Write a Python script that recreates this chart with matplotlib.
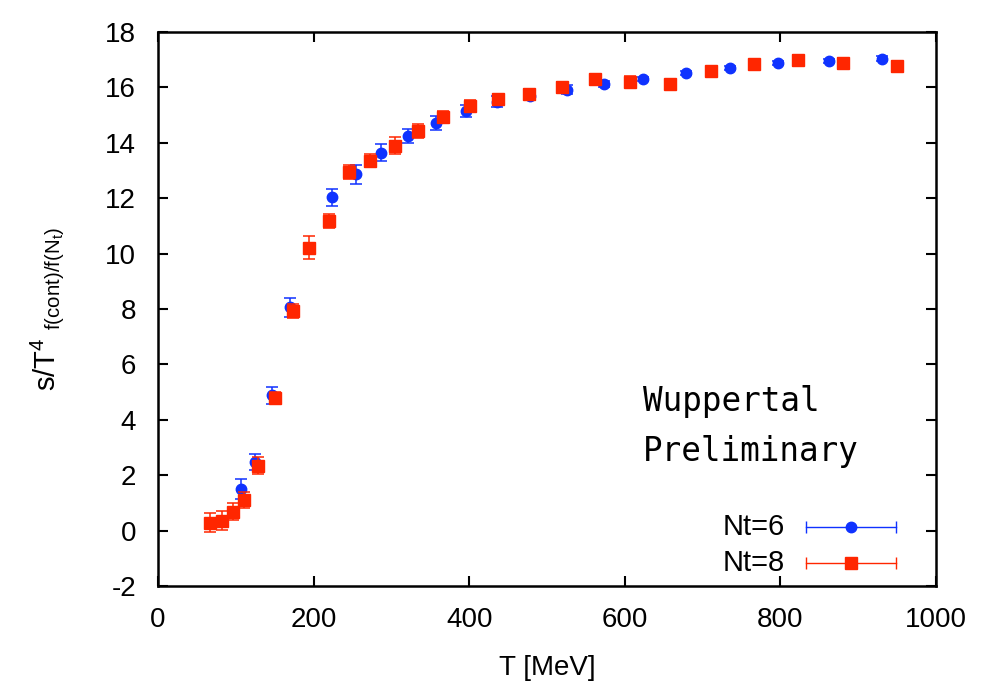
import numpy as np
import matplotlib.pyplot as plt

plt.rcParams['font.family'] = ['Liberation Sans', 'DejaVu Sans']
plt.rcParams['mathtext.fontset'] = 'custom'
plt.rcParams['mathtext.rm'] = 'Liberation Sans'
plt.rcParams['mathtext.it'] = 'Liberation Sans:italic'

# Nt=6 (blue circles)
T6 = [106, 124, 146, 169, 223, 254, 286, 321, 357, 396, 436, 478, 525,
      573, 623, 678, 735, 797, 862, 930]
s6 = [1.50, 2.48, 4.88, 8.06, 12.03, 12.86, 13.64, 14.25, 14.72, 15.15,
      15.48, 15.70, 15.92, 16.12, 16.30, 16.52, 16.70, 16.88, 16.95, 17.04]
e6 = [0.35, 0.30, 0.30, 0.35, 0.30, 0.35, 0.30, 0.25, 0.25, 0.20,
      0.20, 0.15, 0.15, 0.10, 0.08, 0.08, 0.08, 0.08, 0.08, 0.10]

# Nt=8 (red squares)
T8 = [67, 82, 96, 111, 129, 150, 173, 194, 220, 246, 273, 304, 334, 366,
      401, 437, 477, 519, 561, 607, 658, 711, 766, 823, 880, 950]
s8 = [0.29, 0.36, 0.68, 1.10, 2.35, 4.80, 7.93, 10.22, 11.17, 12.96, 13.36,
      13.90, 14.43, 14.94, 15.33, 15.58, 15.76, 16.00, 16.30, 16.20, 16.12,
      16.60, 16.84, 16.98, 16.88, 16.76]
e8 = [0.35, 0.35, 0.30, 0.30, 0.30, 0.20, 0.25, 0.42, 0.25, 0.25, 0.25,
      0.30, 0.25, 0.20, 0.20, 0.20, 0.20, 0.20, 0.20, 0.20, 0.15, 0.10,
      0.15, 0.20, 0.20, 0.20]

xticks = [0, 200, 400, 600, 800, 1000]
yticks = [-2, 0, 2, 4, 6, 8, 10, 12, 14, 16, 18]

blue = '#0f32ff'
red = '#ff2600'

fig = plt.figure(figsize=(9.82, 6.9), dpi=100)
ax = fig.add_axes([0.161, 0.1507, 0.7922, 0.8029])

ax.errorbar(T6, s6, yerr=e6, fmt='o', color=blue, ms=7.5, ecolor=blue,
            elinewidth=1.1, capsize=4, capthick=1.1, zorder=3)
ax.errorbar(T8, s8, yerr=e8, fmt='s', color=red, ms=8.5, ecolor=red,
            elinewidth=1.1, capsize=4, capthick=1.1, zorder=4)

ax.set_xlim(0, 1000)
ax.set_ylim(-2, 18)
ax.set_xticks(xticks)
ax.set_xticklabels([str(v) for v in xticks])
ax.set_yticks(yticks)
ax.set_yticklabels([str(v) for v in yticks])
ax.tick_params(direction='in', length=7, width=1.5, labelsize=20,
               top=True, right=True)
ax.tick_params(axis='y', pad=16)
ax.tick_params(axis='x', pad=15)
for sp in ax.spines.values():
    sp.set_linewidth(1.8)

ax.set_xlabel('T [MeV]', fontsize=20, labelpad=16)
ax.set_ylabel(r'$\mathregular{s/T^4\ {}_{f(cont)/f(N_t)}}$', fontsize=21,
              labelpad=28)

ax.text(0.623, 0.288, 'Wuppertal\nPreliminary', transform=ax.transAxes,
        ha='left', va='center', fontsize=23.5, family='DejaVu Sans Mono',
        linespacing=1.62)

# gnuplot-style legend
for i, (lab, c, m, ms) in enumerate([('Nt=6', blue, 'o', 7.5),
                                      ('Nt=8', red, 's', 8.5)]):
    yy = 0.1065 - i * 0.065
    ax.text(0.806, yy, lab, transform=ax.transAxes, ha='right', va='center',
            fontsize=21)
    ax.plot([0.833, 0.9486], [yy, yy], color=c, lw=1, transform=ax.transAxes)
    ax.plot([0.833, 0.9486], [yy, yy], ls='none', marker='|', ms=9, mew=1,
            color=c, transform=ax.transAxes)
    ax.plot([0.891], [yy], marker=m, ms=ms, color=c, transform=ax.transAxes)

fig.savefig('out.png', dpi=100)
